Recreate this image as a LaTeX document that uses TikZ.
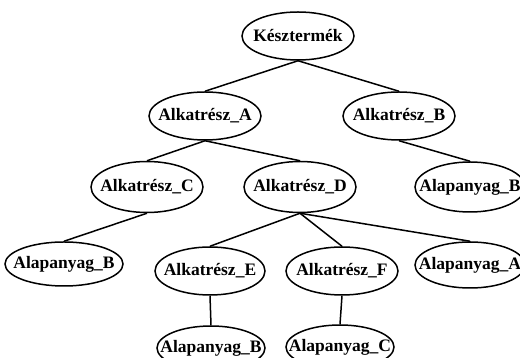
\documentclass[tikz,border=0pt]{standalone}
\usepackage{fontspec}
\setmainfont{Liberation Serif}
\usetikzlibrary{shapes.geometric}
\newcommand{\tx}[1]{\makebox[0pt][c]{#1}}
\begin{document}
\begin{tikzpicture}[x=1pt,y=1pt,
  item/.style={draw, ellipse, line width=1.5pt, inner sep=0pt, minimum width=112pt, minimum height=48pt,
    font=\fontsize{17.5}{19}\selectfont\bfseries},
  link/.style={line width=1.5pt}]
\useasboundingbox (0,0) rectangle (520,358);
\node[item] (K) at (298,322) {\tx{Késztermék}};
\node[item] (A) at (205,242) {\tx{Alkatrész\_A}};
\node[item] (B) at (399,242) {\tx{Alkatrész\_B}};
\node[item, minimum height=51pt] (C) at (147,171) {\tx{Alkatrész\_C}};
\node[item, minimum height=51pt] (D) at (300,171) {\tx{Alkatrész\_D}};
\node[item, minimum width=110pt, minimum height=50pt] (BR) at (470,171) {\tx{Alapanyag\_B}};
\node[item, minimum width=118pt, minimum height=44pt] (BL) at (64,94) {\tx{Alapanyag\_B}};
\node[item, minimum width=110pt] (E) at (210,87) {\tx{Alkatrész\_E}};
\node[item] (F) at (342,87) {\tx{Alkatrész\_F}};
\node[item, minimum width=110pt, minimum height=46pt] (AA) at (470,93) {\tx{Alapanyag\_A}};
\node[item, minimum width=108pt, minimum height=44pt] (LB) at (211,10) {\tx{Alapanyag\_B}};
\node[item, minimum width=108pt, minimum height=44pt] (LC) at (340,11) {\tx{Alapanyag\_C}};
\draw[link] (K.south) -- (A.north);
\draw[link] (K.south) -- (B.north);
\draw[link] (A.south) -- (C.north);
\draw[link] (A.south) -- (D.north);
\draw[link] (B.south) -- (BR.north);
\draw[link] (C.south) -- (BL.north);
\draw[link] (D.south) -- (E.north);
\draw[link] (D.south) -- (F.north);
\draw[link] (D.south) -- (AA.north);
\draw[link] (E.south) -- (LB.north);
\draw[link] (F.south) -- (LC.north);
\end{tikzpicture}
\end{document}
